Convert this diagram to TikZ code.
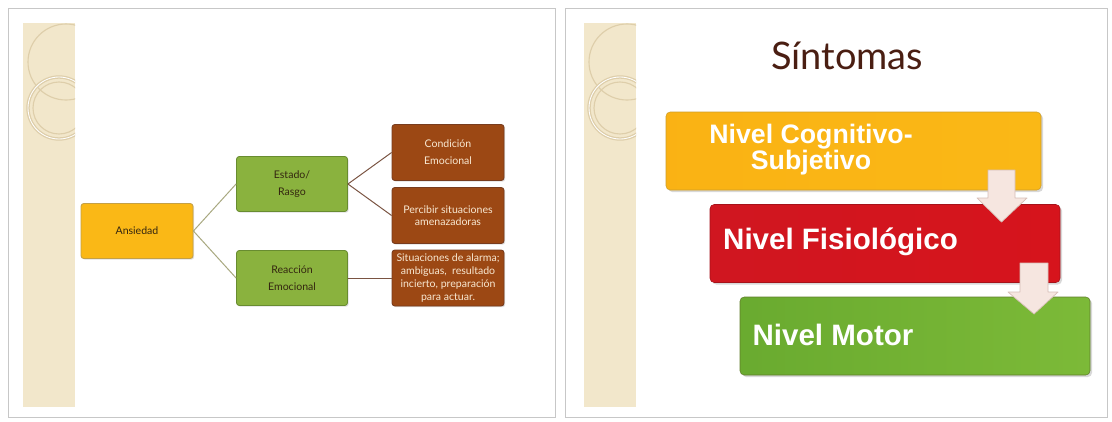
\documentclass[tikz,border=0pt]{standalone}
\usepackage{fontspec}
\setmainfont{Lato}
\newfontfamily\arialfont{Liberation Sans}
\usetikzlibrary{shadows}

\definecolor{stripfill}{RGB}{242,231,203}
\definecolor{stripline}{RGB}{222,206,170}
\definecolor{rootfill}{RGB}{250,184,22}
\definecolor{rootline}{RGB}{196,160,70}
\definecolor{statefill}{RGB}{138,178,62}
\definecolor{stateline}{RGB}{104,140,48}
\definecolor{detailfill}{RGB}{156,72,20}
\definecolor{detailline}{RGB}{120,60,30}
\definecolor{darktext}{RGB}{52,38,16}
\definecolor{lighttext}{RGB}{248,232,210}
\definecolor{edgeone}{RGB}{168,168,128}
\definecolor{edgetwo}{RGB}{122,84,66}
\definecolor{titlebrown}{RGB}{74,30,18}
\definecolor{arrowfill}{RGB}{246,230,224}
\definecolor{arrowline}{RGB}{214,190,182}
\definecolor{redleft}{RGB}{208,22,32}
\definecolor{redmid}{RGB}{244,52,58}
\definecolor{redright}{RGB}{214,20,28}

\begin{document}
\begin{tikzpicture}[x=0.25mm, y=-0.25mm,
slide/.style={draw=black!22, fill=white, line width=0.6pt},
strip/.style={fill=stripfill},
deco/.style={draw=stripline, line width=0.8pt},
box/.style={rectangle, rounded corners=2pt, align=center, line width=0.6pt,
  drop shadow={opacity=0.25, shadow xshift=0.3mm, shadow yshift=-0.3mm}},
root/.style={box, draw=rootline, fill=rootfill, text=darktext,
  minimum width=28mm, minimum height=13.75mm, font=\fontsize{7.5}{9}\selectfont},
state/.style={box, draw=stateline, fill=statefill, text=darktext,
  minimum width=27.75mm, minimum height=13.75mm, font=\fontsize{7.5}{12.5}\selectfont},
detail/.style={box, draw=detailline, fill=detailfill, text=lighttext,
  minimum width=28mm, minimum height=14mm, inner sep=0.5mm, font=\fontsize{7.5}{9}\selectfont},
level/.style={rectangle, rounded corners=3pt, minimum height=19.5mm,
  drop shadow={opacity=0.3, shadow xshift=0.5mm, shadow yshift=-0.5mm}},
levtext/.style={text=white, font=\arialfont\bfseries},
downarrow/.style={draw=arrowline, fill=arrowfill, line width=0.5pt, line join=round},
parent anchor=east, child anchor=west, grow'=right,
level 1/.style={level distance=38.75mm, sibling distance=23.5mm,
  edge from parent/.style={draw=edgeone, line width=0.7pt}},
level 2/.style={level distance=39mm, sibling distance=15.75mm,
  edge from parent/.style={draw=edgetwo, line width=0.7pt}},
]
\useasboundingbox (0,0) rectangle (1112,421);

% slides
\draw[slide] (8,8) rectangle (555,417);
\draw[slide] (565,8) rectangle (1107,417);

% strips with rings
\foreach \dx in {0,561} {
  \fill[strip] (23+\dx,23) rectangle (75+\dx,407);
  \begin{scope}
    \clip (23+\dx,23) rectangle (75+\dx,407);
    \draw[deco] (66+\dx,62) circle (38);
    \draw[stripline, line width=2.4pt] (59+\dx,108) circle (31);
    \draw[white, line width=0.6pt] (59+\dx,108) circle (31);
    \draw[deco] (59+\dx,108) circle (26);
  \end{scope}
}

% left slide: tree
\node[root] (ans) at (137,231) {Ansiedad}
  child {node[state] (est) {Estado/\\Rasgo}
    child {node[detail, font=\fontsize{7.5}{12}\selectfont] (cond) {Condición\\Emocional}}
    child {node[detail] (perc) {Percibir situaciones\\amenazadoras}}
  }
  child {node[state] (reac) {Reacción\\Emocional}
    child {node[detail, font=\fontsize{7.5}{9.2}\selectfont] (sit)
      {Situaciones de alarma;\\ambiguas,\ \ resultado\\incierto, preparación\\para actuar.}}
  };

% right slide
\node[text=titlebrown, font=\fontsize{27}{30}\selectfont] (title) at (847,56) {Síntomas};

\node[level, left color=rootfill!90!orange, middle color=rootfill!60!yellow, right color=rootfill,
  draw=rootfill!80!black!90, minimum width=93.75mm] (cog) at (853.5,151) {};
\node[levtext, align=center, font=\arialfont\bfseries\fontsize{19}{18.5}\selectfont]
  at (811,150) {Nivel Cognitivo-\\Subjetivo};

\node[level, left color=redleft, middle color=redmid, right color=redright,
  draw=redleft!80!black, minimum width=87.5mm] (fis) at (885,243.5) {};
\node[levtext, font=\arialfont\bfseries\fontsize{21}{24}\selectfont] at (840.5,242) {Nivel Fisiológico};

\node[level, left color=statefill!85!green!90!black, middle color=statefill!70!yellow!90!white,
  right color=statefill!90!green, draw=statefill!70!black, minimum width=87.5mm] (mot) at (915,336) {};
\node[levtext, font=\arialfont\bfseries\fontsize{21}{24}\selectfont] at (833,335) {Nivel Motor};

% block arrows
\draw[downarrow] (988,170) -- (1015,170) -- (1015,198) -- (1027,198) -- (1001.5,222)
  -- (977,198) -- (988,198) -- cycle;
\draw[downarrow] (1020,263) -- (1048,263) -- (1048,292) -- (1058,292) -- (1034,314)
  -- (1008,292) -- (1020,292) -- cycle;
\end{tikzpicture}
\end{document}
